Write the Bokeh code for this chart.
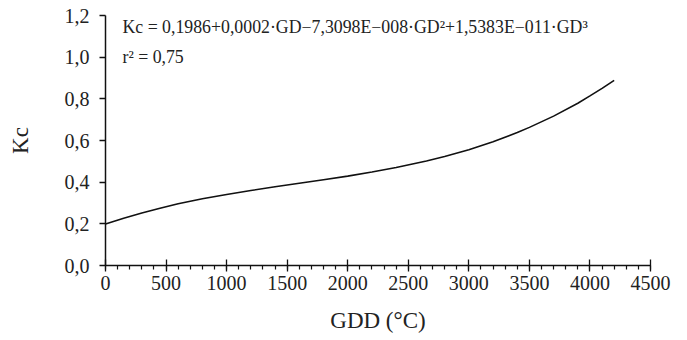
from bokeh.plotting import figure
from bokeh.models import Range1d, SingleIntervalTicker, FixedTicker, Label
from bokeh.embed import file_html
from bokeh.resources import INLINE

# Data
gdd = [0, 150, 300, 450, 600, 800, 1000, 1200, 1400, 1600, 1800, 2000, 2200,
       2400, 2650, 2800, 3000, 3200, 3400, 3500, 3700, 3900, 4000, 4100, 4200]
kc = [0.199, 0.227, 0.252, 0.275, 0.296, 0.320, 0.341, 0.360, 0.378, 0.395,
      0.412, 0.429, 0.449, 0.470, 0.502, 0.523, 0.556, 0.594, 0.638, 0.663,
      0.717, 0.779, 0.814, 0.850, 0.889]

x_ticks = [0, 500, 1000, 1500, 2000, 2500, 3000, 3500, 4000, 4500]
x_tick_labels = ["0", "500", "1000", "1500", "2000", "2500", "3000", "3500", "4000", "4500"]
y_ticks = [0.0, 0.2, 0.4, 0.6, 0.8, 1.0, 1.2]
y_tick_labels = ["0,0", "0,2", "0,4", "0,6", "0,8", "1,0", "1,2"]

equation = "Kc = 0,1986+0,0002·GD\u22127,3098E\u2212008·GD²+1,5383E\u2212011·GD³"
r2_text = "r² = 0,75"

FONT = "Liberation Serif"

p = figure(width=680, height=332, output_backend="svg", toolbar_location=None,
           x_range=Range1d(0, 4500), y_range=Range1d(0, 1.2),
           min_border_left=105, min_border_right=30, min_border_top=15, min_border_bottom=67,
           frame_width=545, frame_height=250)
p.outline_line_color = None
p.grid.visible = False
p.background_fill_color = "white"
p.border_fill_color = "white"

p.line(gdd, kc, line_color="#111111", line_width=1.6)

xa = p.xaxis[0]
xa.ticker = SingleIntervalTicker(interval=500, num_minor_ticks=5)
xa.major_label_overrides = {t: l for t, l in zip(x_ticks, x_tick_labels)}
xa.major_tick_in = 6
xa.major_tick_out = 6
xa.minor_tick_in = 0
xa.minor_tick_out = 4
xa.axis_label = "GDD (°C)"

ya = p.yaxis[0]
ya.ticker = FixedTicker(ticks=y_ticks)
ya.major_label_overrides = {t: l for t, l in zip(y_ticks, y_tick_labels)}
ya.major_tick_in = 0
ya.major_tick_out = 6
ya.axis_label = "Kc"

for ax in (xa, ya):
    ax.axis_line_color = "#111111"
    ax.axis_line_width = 1.5
    ax.major_tick_line_color = "#111111"
    ax.major_tick_line_width = 1.3
    ax.major_label_text_font = FONT
    ax.major_label_text_font_size = "20px"
    ax.major_label_text_color = "#222222"
    ax.axis_label_text_font = FONT
    ax.axis_label_text_font_size = "23px"
    ax.axis_label_text_font_style = "normal"
    ax.axis_label_text_color = "#222222"
xa.minor_tick_line_color = "#111111"
xa.minor_tick_line_width = 1.2
ya.minor_tick_line_color = None
xa.major_label_standoff = 4
ya.major_label_standoff = 10
xa.axis_label_standoff = 15
ya.axis_label_standoff = 29

p.add_layout(Label(x=140, y=1.147, text=equation, text_font=FONT, text_font_size="17.8px",
                   text_color="#222222", text_baseline="alphabetic"))
p.add_layout(Label(x=140, y=1.0, text=r2_text, text_font=FONT, text_font_size="17.8px",
                   text_color="#222222", text_baseline="alphabetic"))

open("out.html", "w").write(file_html(p, INLINE))
